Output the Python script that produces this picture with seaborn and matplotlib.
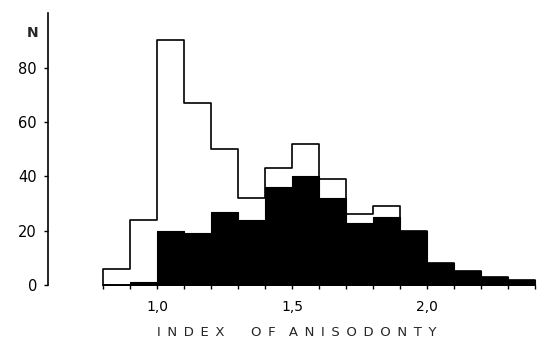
import seaborn as sns
import matplotlib.pyplot as plt
import matplotlib.ticker as ticker

# Bin edges of the index of anisodonty (0.1 wide)
bin_edges = [0.8, 0.9, 1.0, 1.1, 1.2, 1.3, 1.4, 1.5, 1.6, 1.7, 1.8, 1.9, 2.0, 2.1, 2.2, 2.3, 2.4]
bin_centers = [0.85, 0.95, 1.05, 1.15, 1.25, 1.35, 1.45, 1.55, 1.65, 1.75, 1.85, 1.95, 2.05, 2.15, 2.25, 2.35]
# Open histogram (all specimens) and filled histogram (subset)
n_total = [6, 24, 90, 67, 50, 32, 43, 52, 39, 26, 29, 20, 8, 5, 3, 2]
n_filled = [0, 1, 20, 19, 27, 24, 36, 40, 32, 23, 25, 20, 8, 5, 3, 2]

y_ticks = [0, 20, 40, 60, 80]
x_major = [1.0, 1.5, 2.0]
x_labels = ["1,0", "1,5", "2,0"]


def spaced(words, gaps):
    # letter-spaced title using en spaces
    sp = "\u2002"
    out = ""
    for i, w in enumerate(words):
        out += sp.join(w)
        if i < len(gaps):
            out += sp * gaps[i]
    return out


def main():
    sns.set_style("ticks")
    plt.rcParams["font.family"] = ["DejaVu Sans"]

    fig = plt.figure(figsize=(5.38, 3.55), dpi=100)
    ax = fig.add_axes([0.0892, 0.197, 0.911, 0.766])

    sns.histplot(x=bin_centers, weights=n_total, bins=bin_edges, element="step",
                 fill=True, color="white", edgecolor="black", alpha=1, linewidth=1.2, ax=ax)
    sns.histplot(x=bin_centers, weights=n_filled, bins=bin_edges, element="step",
                 fill=True, color="black", edgecolor="black", alpha=1, linewidth=0.8, ax=ax)

    ax.set_xlim(0.5963, 2.411)
    ax.set_ylim(0, 100)
    ax.set_xlabel("")
    ax.set_ylabel("")

    for s in ["top", "right"]:
        ax.spines[s].set_visible(False)
    ax.spines["left"].set_bounds(0, 100)
    ax.spines["bottom"].set_bounds(0.8, 2.4)
    for s in ["left", "bottom"]:
        ax.spines[s].set_linewidth(1.2)
        ax.spines[s].set_color("black")

    ax.yaxis.set_major_locator(ticker.FixedLocator(y_ticks))
    ax.set_yticklabels([str(v) for v in y_ticks])
    ax.xaxis.set_major_locator(ticker.FixedLocator(x_major))
    ax.set_xticklabels(x_labels)
    ax.xaxis.set_minor_locator(ticker.FixedLocator(bin_edges))

    ax.tick_params(axis="y", direction="out", length=3, width=1, pad=5,
                   labelsize=10.5, colors="black")
    ax.tick_params(axis="x", which="both", direction="out", length=3, width=1,
                   pad=8, labelsize=10, colors="black")

    # "N" above the y axis, axis title with wide letter spacing
    fig.text(33 / 538, 1 - 33 / 355, "N", fontsize=10, fontweight="bold",
             ha="center", va="center")
    fig.text(297 / 538, 1 - 333 / 355, spaced(["INDEX", "OF", "ANISODONTY"], [4, 2]),
             fontsize=9.5, ha="center", va="center")

    fig.savefig("out.png", dpi=100)


if __name__ == '__main__':
    main()
